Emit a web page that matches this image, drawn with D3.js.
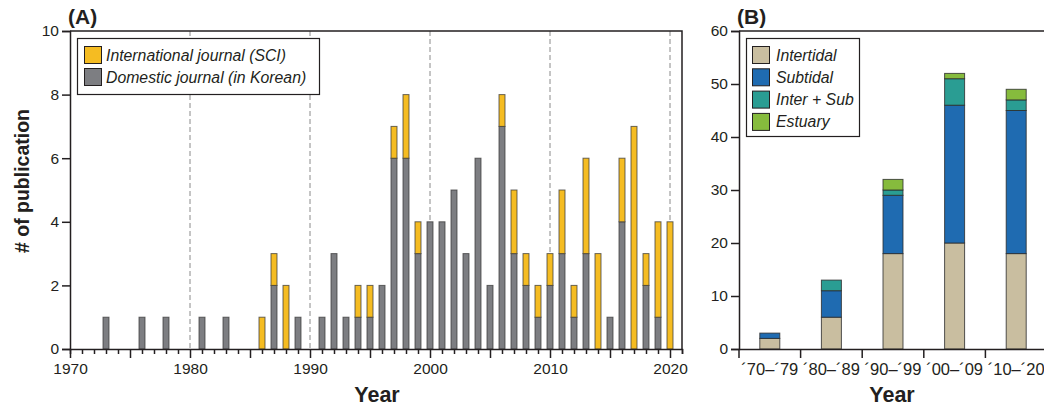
<!DOCTYPE html>
<html><head><meta charset="utf-8">
<script src="https://cdn.jsdelivr.net/npm/d3@7"></script>
<style>body{margin:0;background:#fff}svg{display:block;font-family:"Liberation Sans",Arial,sans-serif}</style>
</head><body><svg id="c" width="1044" height="407"></svg>
<script>
// ---- Panel A data ----
const years = [1973,1976,1978,1981,1983,1986,1987,1988,1989,1991,1992,1993,1994,1995,1996,1997,1998,1999,2000,2001,2002,2003,2004,2005,2006,2007,2008,2009,2010,2011,2012,2013,2014,2015,2016,2017,2018,2019,2020];
const domestic = [1,1,1,1,1,0,2,0,1,1,3,1,1,1,2,6,6,3,4,4,5,3,6,2,7,3,2,1,2,3,1,3,0,1,4,0,2,1,0];
const international = [0,0,0,0,0,1,1,2,0,0,0,0,1,1,0,1,2,1,0,0,0,0,0,0,1,2,1,1,1,2,1,3,3,0,2,7,1,3,4];
const yTicksA = [0,2,4,6,8,10];
const xLabelsA = [1970,1980,1990,2000,2010,2020];
const dashedYears = [1980,1990,2000,2010,2020];
const seriesA = ["Domestic journal (in Korean)","International journal (SCI)"];

// ---- Panel B data ----
const decades = ["´70–´79","´80–´89","´90–´99","´00–´09","´10–´20"];
const intertidal = [2,6,18,20,18];
const subtidal = [1,5,11,26,27];
const interSub = [0,2,1,5,2];
const estuary = [0,0,2,1,2];
const habitats = ["Intertidal","Subtidal","Inter + Sub","Estuary"];
const yTicksB = [0,10,20,30,40,50,60];

const svg = d3.select("#c");
const ink = "#231f20";
const tickFont = 15.5;

// ===== Panel A =====
const xA = d3.scaleLinear().domain([1970,2021]).range([70,682]);
const yA = d3.scaleLinear().domain([0,10]).range([349,31]);
const colA = {dom:"#7d7e82", intl:"#f5bc22"};

const gA = svg.append("g");
gA.selectAll("line.dash").data(dashedYears).join("line")
  .attr("x1",d=>xA(d)).attr("x2",d=>xA(d)).attr("y1",yA(10)).attr("y2",yA(0))
  .attr("stroke","#8a8a8a").attr("stroke-width",1).attr("stroke-dasharray","5,3");

const rowsA = years.map((y,i)=>({year:y, dom:domestic[i], intl:international[i]}));
const stackA = d3.stack().keys(["dom","intl"])(rowsA);
const bw = 6;
gA.selectAll("g.layer").data(stackA).join("g")
  .attr("fill",d=>colA[d.key])
  .selectAll("rect").data(d=>d.filter(p=>p[1]>p[0])).join("rect")
  .attr("x",d=>xA(d.data.year)-bw/2).attr("width",bw)
  .attr("y",d=>yA(d[1])).attr("height",d=>yA(d[0])-yA(d[1]))
  .attr("stroke","#3a3a3a").attr("stroke-opacity",0.75).attr("stroke-width",1);

gA.append("path").attr("d",`M${xA(1970)},${yA(10)}H${xA(2021)}V${yA(0)}`)
  .attr("fill","none").attr("stroke",ink).attr("stroke-width",1.5);

const gyA = gA.append("g").attr("transform",`translate(70,0)`)
  .call(d3.axisLeft(yA).tickValues(yTicksA).tickSize(8).tickPadding(3));
const gxA = gA.append("g").attr("transform",`translate(0,349)`)
  .call(d3.axisBottom(xA).tickValues(d3.range(1970,2022)).tickSize(5).tickFormat(""));
gxA.selectAll(".tick line").filter(d=>d%5===0).attr("y2",9);
const gxAL = gA.append("g").attr("transform",`translate(0,349)`)
  .call(d3.axisBottom(xA).tickValues(xLabelsA).tickSize(0).tickPadding(14).tickFormat(d3.format("d")));
gxAL.select(".domain").remove();
[gyA,gxA,gxAL].forEach(g=>{
  g.select(".domain").attr("stroke",ink).attr("stroke-width",1.5);
  g.selectAll(".tick line").attr("stroke",ink).attr("stroke-width",1.5);
  g.attr("font-size",tickFont).attr("font-family","Liberation Sans, Arial, sans-serif");
  g.selectAll("text").attr("fill",ink);
});

const lgA = gA.append("g");
lgA.append("rect").attr("x",77.5).attr("y",38.5).attr("width",242).attr("height",56)
  .attr("fill","#fff").attr("stroke",ink).attr("stroke-width",1.2);
const legItemsA = [{k:"intl",t:seriesA[1]},{k:"dom",t:seriesA[0]}];
legItemsA.forEach((d,i)=>{
  lgA.append("rect").attr("x",84.5).attr("y",46.5+i*22).attr("width",17).attr("height",17)
    .attr("fill",colA[d.k]).attr("stroke",ink).attr("stroke-width",1);
  lgA.append("text").attr("x",106).attr("y",60.5+i*22).attr("font-size",15.8)
    .attr("font-style","italic").attr("fill",ink).text(d.t);
});

svg.append("text").attr("x",68).attr("y",24).attr("font-size",21).attr("font-weight","bold").attr("fill",ink).text("(A)");
svg.append("text").attr("x",377).attr("y",402).attr("text-anchor","middle").attr("font-size",21.5).attr("font-weight","bold").attr("fill",ink).text("Year");
svg.append("text").attr("transform","translate(29,181) rotate(-90)").attr("text-anchor","middle")
  .attr("font-size",19.5).attr("font-weight","bold").attr("fill",ink).text("# of publication");

// ===== Panel B =====
const xBb = d3.scaleBand().domain(decades).range([739,1047]);
const yB = d3.scaleLinear().domain([0,60]).range([349,31]);
const colB = {"Intertidal":"#c9bea0","Subtidal":"#1f6bb1","Inter + Sub":"#2a9d93","Estuary":"#86bb3d"};
const rowsB = decades.map((d,i)=>({dec:d,"Intertidal":intertidal[i],"Subtidal":subtidal[i],"Inter + Sub":interSub[i],"Estuary":estuary[i]}));
const stackB = d3.stack().keys(habitats)(rowsB);
const gB = svg.append("g");
gB.selectAll("g.layer").data(stackB).join("g").attr("fill",d=>colB[d.key])
  .selectAll("rect").data(d=>d.filter(p=>p[1]>p[0])).join("rect")
  .attr("x",d=>xBb(d.data.dec)+xBb.bandwidth()/2-10).attr("width",20)
  .attr("y",d=>yB(d[1])).attr("height",d=>yB(d[0])-yB(d[1]))
  .attr("stroke","#2a2a2a").attr("stroke-opacity",0.8).attr("stroke-width",1);

gB.append("path").attr("d",`M739,${yB(60)}H1044`).attr("stroke",ink).attr("stroke-width",1.5);
const gyB = gB.append("g").attr("transform","translate(739,0)")
  .call(d3.axisLeft(yB).tickValues(yTicksB).tickSize(8).tickPadding(3));
const gxB = gB.append("g").attr("transform","translate(0,349)")
  .call(d3.axisBottom(xBb).tickSize(0).tickPadding(14));
const bTicks = decades.map(d=>xBb(d));
gxB.selectAll("line.bt").data(bTicks).join("line").attr("class","bt")
  .attr("x1",d=>d).attr("x2",d=>d).attr("y1",0).attr("y2",9);
[gyB,gxB].forEach(g=>{
  g.select(".domain").attr("stroke",ink).attr("stroke-width",1.5);
  g.selectAll("line").attr("stroke",ink).attr("stroke-width",1.5);
  g.attr("font-size",tickFont).attr("font-family","Liberation Sans, Arial, sans-serif");
  g.selectAll("text").attr("fill",ink);
});
gxB.selectAll("text").attr("font-size",16.5);

const lgB = gB.append("g");
lgB.append("rect").attr("x",746.5).attr("y",38.5).attr("width",113).attr("height",98)
  .attr("fill","#fff").attr("stroke",ink).attr("stroke-width",1.2);
habitats.forEach((h,i)=>{
  lgB.append("rect").attr("x",752.5).attr("y",46.5+i*22.3).attr("width",17).attr("height",17)
    .attr("fill",colB[h]).attr("stroke",ink).attr("stroke-width",1);
  lgB.append("text").attr("x",776).attr("y",60.5+i*22.3).attr("font-size",15.8)
    .attr("font-style","italic").attr("fill",ink).text(h);
});
svg.append("text").attr("x",737).attr("y",24).attr("font-size",21).attr("font-weight","bold").attr("fill",ink).text("(B)");
svg.append("text").attr("x",892).attr("y",402).attr("text-anchor","middle").attr("font-size",21.5).attr("font-weight","bold").attr("fill",ink).text("Year");
</script></body></html>
